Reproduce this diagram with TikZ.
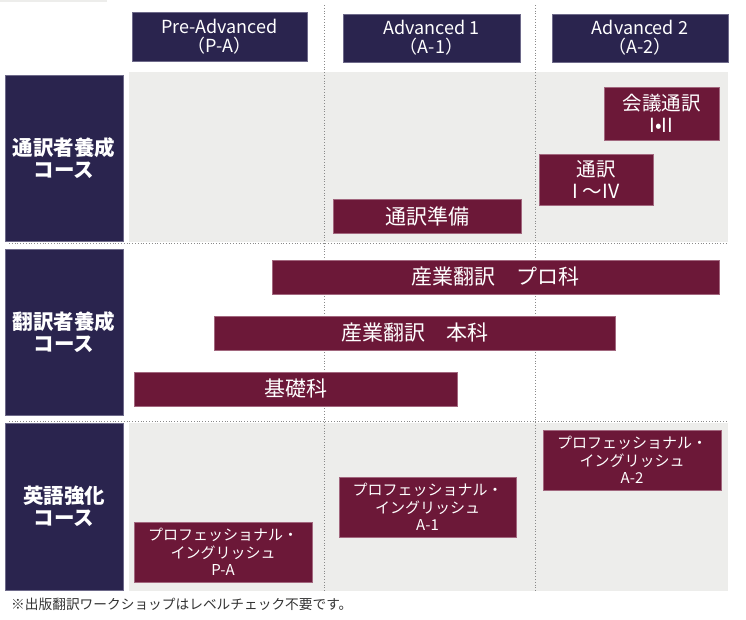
\documentclass[tikz,border=0pt]{standalone}
\usepackage{fontspec}
\setmainfont{Noto Sans CJK JP}
\definecolor{navy}{HTML}{2A244E}
\definecolor{navyedge}{HTML}{6E6A8A}
\definecolor{maroon}{HTML}{6C1838}
\definecolor{maroonedge}{HTML}{A2677E}
\definecolor{bggray}{HTML}{EDEDEB}
\definecolor{dotgray}{HTML}{8A8A8A}
\definecolor{notegray}{HTML}{333333}
\newcommand{\rbox}[7][]{\node[#1, minimum width={(#5-#3)*1pt}, minimum height={(#6-#4)*1pt}] (#2) at (#3,#4) {#7};}
\begin{document}
\begin{tikzpicture}[x=1pt,y=-1pt,
  basebox/.style={rectangle, inner sep=0pt, outer sep=0pt, anchor=north west, text=white, align=center, line width=0.6pt},
  hdr/.style={basebox, fill=navy, draw=navyedge, font=\fontsize{18}{19}\selectfont},
  lbl/.style={basebox, fill=navy, draw=navyedge, font=\fontsize{20.5}{22}\selectfont\bfseries},
  bar/.style={basebox, fill=maroon, draw=maroonedge, font=\fontsize{21}{23}\selectfont},
  smallbar/.style={basebox, fill=maroon, draw=maroonedge, font=\fontsize{19.5}{21.5}\selectfont},
  pebar/.style={basebox, fill=maroon, draw=maroonedge, font=\fontsize{15}{17.5}\selectfont},
  sep/.style={dotgray, line width=0.8pt, dotted}]
\useasboundingbox (0,0) rectangle (746,619);
% faint top strip
\fill[bggray] (0,0) rectangle (107,2);
% gray backgrounds
\fill[bggray] (129,72) rectangle (728,242);
\fill[bggray] (129,423) rectangle (728,591);
% grid lines
\coordinate (v1t) at (324,5); \coordinate (v1b) at (324,591);
\coordinate (v2t) at (535,5); \coordinate (v2b) at (535,591);
\coordinate (h1l) at (9,243); \coordinate (h1r) at (728,243);
\coordinate (h2l) at (9,421); \coordinate (h2r) at (728,421);
\draw[sep] (v1t) -- (v1b);
\draw[sep] (v2t) -- (v2b);
\draw[sep] (h1l) -- (h1r);
\draw[sep] (h2l) -- (h2r);
% headers
\rbox[hdr]{hpa}{132}{12}{307}{61}{Pre-Advanced\\（P-A）}
\rbox[hdr]{ha1}{343}{14}{520}{62}{Advanced 1\\（A-1）}
\rbox[hdr]{ha2}{552}{14}{728}{62}{Advanced 2\\（A-2）}
% row labels
\rbox[lbl]{l1}{5}{75}{123}{241}{通訳者養成\\コース}
\rbox[lbl]{l2}{5}{249}{123}{415}{翻訳者養成\\コース}
\rbox[lbl]{l3}{5}{423}{123}{590}{英語強化\\コース}
% row 1 bars
\rbox[smallbar]{kaigi}{604}{87}{719}{140}{会議通訳\\I•II}
\rbox[smallbar]{tsuyaku}{539}{154}{653}{205}{通訳\\I ～IV}
\rbox[bar]{junbi}{333}{199}{521}{233}{通訳準備}
% row 2 bars
\rbox[bar]{pro}{272}{260}{719}{294}{産業翻訳　プロ科}
\rbox[bar]{honka}{214}{316}{615}{350}{産業翻訳　本科}
\rbox[bar]{kiso}{134}{372}{457}{406}{基礎科}
% row 3 bars
\rbox[pebar]{pepa}{134}{522}{312}{582}{プロフェッショナル・\\イングリッシュ\\P-A}
\rbox[pebar]{pea1}{339}{477}{516}{537}{プロフェッショナル・\\イングリッシュ\\A-1}
\rbox[pebar]{pea2}{543}{430}{721}{490}{プロフェッショナル・\\イングリッシュ\\A-2}
% footnote
\node[anchor=west, inner sep=0pt, text=notegray, font=\fontsize{13.7}{15}\selectfont] (note) at (11,604) {※出版翻訳ワークショップはレベルチェック不要です。};
\end{tikzpicture}
\end{document}
